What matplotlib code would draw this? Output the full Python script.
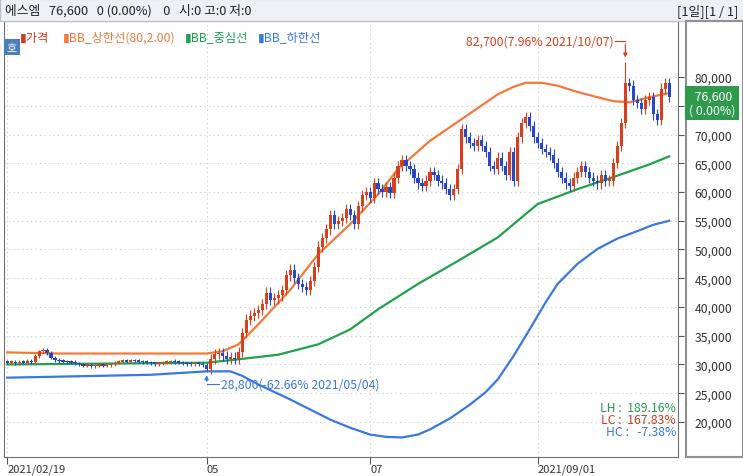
import matplotlib
matplotlib.use("Agg")
import matplotlib.pyplot as plt
from matplotlib.patches import Rectangle

plt.rcParams["font.family"] = ["Noto Sans CJK KR", "Noto Sans CJK JP", "DejaVu Sans"]

closes = [30300,30500,30200,30400,30300,30600,30400,31500,32300,32500,32000,31200,30800,30600,30500,30400,30300,30200,30000,29800,29900,29700,29800,29900,29800,29900,30000,30300,30500,30600,30500,30700,30600,30500,30400,30300,30200,30100,30200,30300,30400,30500,30400,30300,30200,30100,30000,30200,30100,29900,29200,
 31000,31800,32000,31500,31000,31200,30900,32200,35500,37800,38500,39000,39500,40500,42500,41200,41500,42000,43000,45500,46500,45000,44000,43500,43000,44500,47000,50500,52000,53500,56000,54500,55000,55500,57000,56000,54500,57500,59500,60000,59000,61500,60500,60000,60800,59800,62500,64500,65500,64500,64000,62500,61500,61000,62000,63500,63000,62000,61500,60500,59500,60500,64000,71000,69500,68500,68000,69000,68000,67000,64500,64000,66000,64500,63000,67000,62000,69500,72000,73000,71500,69500,68500,67500,67000,66500,65000,63500,62500,61500,61000,62500,63500,64500,63500,62500,62000,61500,63000,62000,62000,65000,68000,72000,79000,78500,76000,75500,74500,76000,76500,73500,72500,78000,79000,76600]
opens = [30500,30300,30400,30200,30400,30300,30600,30400,31500,32300,32600,32000,31200,30800,30600,30500,30400,30400,30200,30000,29800,29900,29700,29800,29900,29800,29900,30000,30300,30500,30700,30500,30700,30600,30500,30400,30300,30200,30100,30200,30300,30400,30600,30400,30300,30200,30100,30000,30200,30100,29900,
 29200,31000,31800,32000,31500,31000,31200,30900,32200,35500,37800,38500,39000,39500,40500,42500,41200,41500,42000,43000,45500,46500,45000,44000,43500,43000,44500,47000,50500,52000,53500,56000,54500,55000,55500,57000,56000,54500,57500,59500,60000,59000,61500,60500,60000,60800,59800,62500,64500,65500,64500,64000,62500,61500,61000,62000,63500,63000,62000,61500,60500,59500,60500,64000,71000,69500,68500,68000,69000,68000,67000,64500,64000,66000,64500,63000,67000,62000,69500,72000,73000,71500,69500,68500,67500,67000,66500,65000,63500,62500,61500,61000,62500,63500,64500,63500,62500,62000,61500,63000,62000,62000,65000,68000,72000,79000,78500,76000,75500,74500,76000,76500,73500,72500,78000,79000]
wick_up = [300]*51 + [900]*116
wick_dn = [300]*51 + [900]*116
wick_up[155] = 82700 - max(opens[155], closes[155])
wick_dn[50] = min(opens[50], closes[50]) - 28800

upper_idx = [0, 13, 50, 54, 58, 63, 71, 78, 86, 93, 98, 106, 114, 118, 123, 127, 130, 134, 138, 143, 148, 152, 156, 161, 166]
upper_val = [32100, 31900, 31900, 32300, 33500, 37000, 43000, 49200, 54400, 59600, 64000, 68900, 72700, 74600, 77000, 78300, 79000, 79000, 78500, 77400, 76500, 75800, 75600, 76500, 77200]
mid_idx = [0, 50, 58, 68, 78, 86, 93, 103, 113, 123, 133, 143, 152, 161, 166]
mid_val = [30000, 30300, 30900, 31700, 33500, 36100, 39600, 44000, 48000, 52100, 57900, 60500, 62600, 64800, 66200]
lower_idx = [0, 36, 43, 50, 56, 59, 63, 71, 81, 86, 91, 95, 99, 103, 106, 111, 116, 120, 123, 127, 131, 135, 138, 143, 148, 153, 158, 162, 166]
lower_val = [27700, 28200, 28500, 28800, 28800, 28000, 26500, 23900, 20400, 19000, 17800, 17400, 17300, 17800, 18700, 20600, 23000, 25200, 27400, 31500, 36100, 40800, 44000, 47500, 50100, 51900, 53200, 54300, 55000]

tick_pos = [0, 50, 91, 133]
tick_labels = ["2021/02/19", "05", "07", "2021/09/01"]
y_ticks = [20000, 25000, 30000, 35000, 40000, 45000, 50000, 55000, 60000, 65000, 70000, 75000, 80000]

W, H = 743, 477
fig = plt.figure(figsize=(W/100, H/100), dpi=100)
fig.patch.set_facecolor("white")
x0, x1, ytop, ybot = 4, 678, 22, 458
ax = fig.add_axes([x0/W, 1-ybot/H, (x1-x0)/W, (ybot-ytop)/H])
ax.set_xlim(-0.8, len(closes) + 1.2)
ax.set_ylim(13900, 89750)

RED, BLUE = "#d8401c", "#2548c8"
for i, (o, c) in enumerate(zip(opens, closes)):
    col = RED if c >= o else BLUE
    hi = max(o, c) + wick_up[i]
    lo = min(o, c) - wick_dn[i]
    ax.vlines(i, lo, hi, color=col, lw=0.8, zorder=3)
    b = max(abs(c - o), 250)
    ax.add_patch(Rectangle((i - 0.4, min(o, c)), 0.8, b, color=col, zorder=4, lw=0))

ax.plot(upper_idx, upper_val, color="#f5793a", lw=1.6, zorder=2)
ax.plot(mid_idx, mid_val, color="#1fa34a", lw=1.6, zorder=2)
ax.plot(lower_idx, lower_val, color="#3a78e0", lw=1.6, zorder=2)

FS = 8.8
ax.yaxis.tick_right()
ax.set_yticks(y_ticks)
ax.set_yticklabels([f"{v:,}" if v != 75000 else "" for v in y_ticks], fontsize=FS, color="#333333")
ax.set_xticks(tick_pos)
ax.set_xticklabels(tick_labels, fontsize=8, color="#333333", ha="left")
ax.tick_params(axis="x", length=5, pad=0, color="#555555")
ax.tick_params(axis="y", length=4, pad=8, color="#555555")
ax.grid(True, color="#c8c8c8", ls=(0, (1, 3)), lw=0.8)
for s in ax.spines.values():
    s.set_color("#707070")

leg = [("▮가격", "#d03a20"), ("▮BB_상한선(80,2.00)", "#f07a3a"), ("▮BB_중심선", "#1fa34a"), ("▮BB_하한선", "#3a78e0")]
xs = [20, 63, 185, 258]
for (t, c), xx in zip(leg, xs):
    fig.text(xx/W, 1-38/H, t, fontsize=FS, color=c, va="center")
fig.text(12/W, 1-48/H, "호", fontsize=8, color="white", ha="center", va="center",
         bbox=dict(boxstyle="square,pad=0.25", fc="#4d7fb8", ec="none"))

ih = 155
ax.annotate("", xy=(ih, 82900), xytext=(ih, 86200),
            arrowprops=dict(arrowstyle="-|>", color=RED, lw=0.8, mutation_scale=6))
ax.plot([ih - 2.5, ih], [86200, 86200], color=RED, lw=0.8)
ax.text(ih - 3, 86200, "82,700(7.96% 2021/10/07)", fontsize=FS, color=RED, ha="right", va="center")
il = 50
ax.annotate("", xy=(il, 28600), xytext=(il, 26600),
            arrowprops=dict(arrowstyle="-|>", color="#3a78e0", lw=0.8, mutation_scale=6))
ax.plot([il, il + 3], [26600, 26600], color="#3a78e0", lw=0.8)
ax.text(il + 3.5, 26600, "28,800(-62.66% 2021/05/04)", fontsize=FS, color="#3a78e0", ha="left", va="center")

for t, c, yy in [("LH :  189.16%", "#2a9a50", 409), ("LC :  167.83%", "#d03a20", 421), ("HC :   -7.38%", "#3a78e0", 433)]:
    fig.text(676/W, 1-yy/H, t, fontsize=FS, color=c, ha="right", va="center")

fig.text(712/W, 1-104/H, " 76,600\n( 0.00%)", fontsize=FS, color="white", ha="center", va="center",
         linespacing=1.1, bbox=dict(boxstyle="square,pad=0.3", fc="#2e9a4c", ec="none"))

fig.patches.append(Rectangle((0, 1-22/H), 1, 22/H, transform=fig.transFigure, fc="#eef0f4", ec="#b8bcc6", lw=0.8))
fig.text(5/W, 1-11/H, "에스엠   76,600   0 (0.00%)    0   시:0 고:0 저:0", fontsize=9.2, color="#222222", va="center")
fig.text(738/W, 1-11/H, "[1일][1 / 1]", fontsize=9.2, color="#222222", va="center", ha="right")
fig.patches.append(Rectangle((686/W, 1-458/H), 57/W, 436/H, transform=fig.transFigure, fc="none", ec="#909090", lw=1.5))

fig.savefig("out.png", dpi=100)
